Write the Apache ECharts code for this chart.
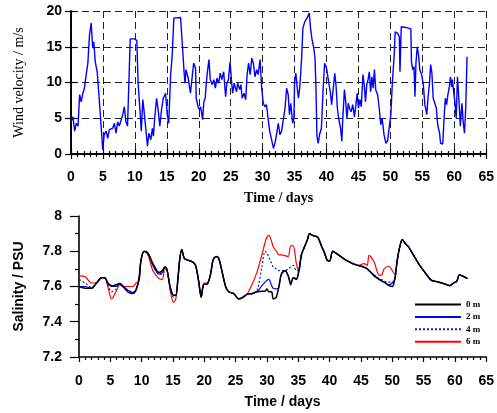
<!DOCTYPE html>
<html>
    <head>
        <meta charset='utf-8'>
        <script src="https://cdn.jsdelivr.net/npm/echarts@6/dist/echarts.min.js"></script>
    </head>
    <body>
        <style>
            html, body, #main {
                width: 100%;
                height: 100%;
                margin: 0;
                background: #fff;
            }
        </style>
        <div id='main'></div>
        <script>
        // wind velocity (m/s) against time (days)
        var windDays = [0.0,0.15,0.3,0.57,0.83,1.1,1.35,1.6,1.86,2.1,2.38,2.64,2.9,3.16,3.4,3.57,3.78,4.1,4.45,4.7,4.97,5.2,5.5,5.75,6.0,6.27,6.53,6.8,7.05,7.3,7.56,7.82,8.1,8.34,8.6,8.85,9.1,9.27,9.9,10.3,10.5,10.77,11.0,11.24,11.45,11.7,11.97,12.2,12.5,12.74,12.9,13.1,13.4,13.68,13.9,14.2,14.45,14.8,15.07,15.3,15.6,15.85,16.1,
            17.15,17.4,17.7,17.85,18.0,18.35,18.7,18.97,19.2,19.5,19.6,19.9,20.1,20.3,20.6,20.8,21.0,21.3,21.6,21.8,22.1,22.35,22.6,22.85,23.1,23.37,23.6,23.9,24.2,24.4,24.65,24.9,25.08,25.3,25.55,25.9,26.1,26.4,26.6,26.8,27.1,27.35,27.57,27.8,28.05,28.3,28.55,28.8,29.07,29.3,29.6,29.85,30.1,30.37,30.6,30.9,31.1,31.4,31.7,32.0,
            32.2,32.45,32.7,32.97,33.2,33.5,33.75,34.0,34.2,34.4,34.7,34.9,35.0,35.2,35.4,35.6,35.8,35.97,36.1,36.3,36.6,36.95,37.3,37.5,37.7,38.0,38.2,38.35,38.5,38.7,38.9,39.2,39.45,39.7,40.0,40.2,40.4,40.6,40.8,41.0,41.3,41.5,41.7,41.9,42.2,42.4,42.55,42.8,42.97,43.2,43.4,43.6,43.85,44.1,44.37,44.6,44.8,45.0,45.25,45.45,45.7,45.9,46.1,46.3,46.5,46.7,46.9,47.1,47.3,47.5,47.7,48.0,48.25,
            48.5,48.7,48.85,49.0,49.3,49.55,49.8,50.07,50.3,50.6,50.75,51.1,51.4,51.5,51.7,52.4,53.2,53.3,53.5,53.7,53.85,54.0,54.2,54.4,54.6,54.9,55.15,55.4,55.7,55.9,56.1,56.3,56.5,56.7,56.95,57.2,57.4,57.7,57.85,58.2,58.4,58.6,58.8,59.0,59.2,59.4,59.6,59.7,59.9,60.1,60.3,60.5,60.7,60.95,61.2,61.4,61.6,61.8,62.0];
        var windSpeed = [4.5,4.3,5.2,3.2,4.3,3.9,8.3,7.3,8.5,9.2,11.1,12.7,16.7,18.3,14.8,15.7,13.0,11.5,7.3,4.1,0.6,2.7,3.2,2.2,3.4,3.2,3.6,4.3,2.9,4.5,3.9,4.1,5.5,6.6,4.5,3.9,11.1,16.1,16.1,15.9,10.1,6.4,3.2,7.6,5.9,3.6,1.1,2.9,2.0,3.6,2.5,5.0,7.8,5.9,3.9,6.4,7.8,8.5,5.5,4.3,11.1,13.9,19.0,
            19.1,15.7,11.5,9.9,11.8,10.6,8.5,8.3,12.7,12.0,7.8,6.6,6.2,6.6,4.8,7.3,7.8,11.1,13.2,10.4,9.7,10.4,9.2,10.6,9.9,11.3,10.4,11.5,8.0,9.9,10.4,12.9,10.8,8.5,9.9,8.7,9.9,9.0,9.7,7.8,8.5,7.6,11.1,12.7,11.1,13.4,12.7,10.8,11.8,11.1,13.2,9.2,7.1,6.6,6.9,4.6,3.2,2.0,0.8,1.8,
            2.9,4.3,2.7,3.2,4.6,6.4,9.2,8.3,5.5,7.1,4.3,5.0,10.1,11.3,9.4,7.8,9.2,11.5,13.4,17.6,18.5,19.0,19.7,17.6,16.2,14.8,13.4,9.2,2.5,1.5,2.7,3.6,8.7,12.7,12.0,11.8,9.7,8.7,6.9,8.7,11.3,9.4,6.4,5.0,3.6,1.8,5.0,9.0,7.6,5.0,7.1,6.4,5.9,6.9,5.2,6.9,8.5,6.4,7.6,6.6,11.1,9.7,7.3,9.7,10.4,11.5,8.7,10.8,9.2,11.8,9.0,8.3,6.4,
            4.1,5.0,3.9,2.7,1.5,1.8,1.8,5.5,9.9,13.9,17.1,16.9,16.4,11.5,17.8,17.7,17.5,12.9,11.8,12.2,8.0,12.7,15.0,13.9,11.8,11.1,9.7,6.9,5.5,8.0,9.7,12.5,11.3,7.8,7.1,6.4,4.1,2.9,1.5,1.4,5.0,7.8,6.9,8.3,9.2,10.8,9.4,10.4,8.7,7.3,5.0,10.8,8.0,3.9,7.1,4.5,2.9,6.6,13.6];

        // salinity (PSU) at four depths against time (days)
        var salDays = [0,1,2,2.8,3.6,4.1,4.6,5.2,5.9,6.5,7.0,7.8,8.6,9.1,9.6,9.9,10.4,11.0,11.8,12.8,13.3,13.7,14.0,14.6,15.1,15.45,15.8,16.1,16.4,16.8,17.3,18.1,18.6,19.1,19.5,19.9,20.5,21.0,21.4,21.9,22.3,22.8,23.4,23.9,24.7,25.5,26.0,26.8,27.6,28.4,29.2,29.7,30.0,30.3,30.75,31.0,31.5,31.9,32.3,32.9,33.4,33.8,34.2,34.7,35.1,35.5,36.0,36.5,36.8,37.3,38.1,38.7,39.2,39.6,40.0,40.5,41.0,41.8,42.6,43.7,44.5,45.5,46.0,46.3,47.1,47.9,48.3,48.7,49.5,50.0,50.4,50.8,51.2,51.6,52.1,52.6,53.4,54.2,55.0,55.8,56.3,57.1,57.9,58.7,59.2,59.8,60.3,60.7,61.2,62.0];
        var sal0m = [7.60,7.59,7.59,7.62,7.65,7.65,7.62,7.60,7.61,7.615,7.60,7.57,7.56,7.58,7.65,7.75,7.80,7.79,7.73,7.68,7.69,7.71,7.70,7.59,7.55,7.55,7.65,7.76,7.81,7.76,7.75,7.74,7.72,7.63,7.54,7.61,7.615,7.67,7.75,7.77,7.76,7.69,7.60,7.57,7.56,7.53,7.535,7.555,7.56,7.57,7.573,7.573,7.586,7.57,7.57,7.53,7.54,7.60,7.67,7.69,7.66,7.61,7.65,7.64,7.69,7.78,7.825,7.87,7.90,7.89,7.88,7.83,7.79,7.75,7.745,7.80,7.79,7.77,7.75,7.73,7.72,7.71,7.70,7.69,7.66,7.64,7.632,7.625,7.605,7.60,7.64,7.75,7.825,7.866,7.843,7.825,7.777,7.73,7.69,7.653,7.634,7.628,7.62,7.61,7.605,7.62,7.63,7.665,7.66,7.645];
        var sal2m = [7.60,7.60,7.59,7.62,7.65,7.65,7.62,7.605,7.60,7.62,7.605,7.58,7.565,7.58,7.65,7.75,7.80,7.79,7.72,7.67,7.68,7.71,7.70,7.59,7.55,7.55,7.65,7.76,7.81,7.76,7.75,7.74,7.72,7.63,7.54,7.61,7.615,7.67,7.75,7.77,7.76,7.69,7.60,7.57,7.56,7.53,7.535,7.555,7.56,7.57,7.605,7.625,7.635,7.64,7.605,7.59,7.586,7.596,7.67,7.69,7.66,7.62,7.65,7.645,7.69,7.78,7.825,7.87,7.90,7.89,7.88,7.83,7.79,7.75,7.745,7.80,7.79,7.77,7.75,7.73,7.72,7.71,7.70,7.69,7.665,7.64,7.633,7.625,7.61,7.62,7.64,7.75,7.825,7.866,7.843,7.825,7.777,7.73,7.69,7.653,7.634,7.628,7.62,7.61,7.605,7.62,7.63,7.665,7.66,7.645];
        var sal4m = [7.64,7.62,7.595,7.62,7.65,7.65,7.61,7.57,7.585,7.615,7.60,7.58,7.57,7.58,7.65,7.75,7.80,7.78,7.72,7.67,7.67,7.71,7.70,7.58,7.54,7.545,7.65,7.76,7.81,7.76,7.75,7.74,7.72,7.63,7.54,7.61,7.615,7.67,7.75,7.77,7.76,7.69,7.60,7.57,7.56,7.53,7.535,7.555,7.56,7.577,7.71,7.80,7.79,7.765,7.73,7.71,7.70,7.69,7.69,7.69,7.70,7.71,7.72,7.69,7.69,7.78,7.825,7.87,7.90,7.89,7.88,7.83,7.79,7.75,7.745,7.80,7.79,7.77,7.75,7.73,7.72,7.71,7.70,7.69,7.665,7.645,7.64,7.63,7.625,7.625,7.64,7.75,7.825,7.866,7.843,7.825,7.777,7.73,7.69,7.653,7.634,7.628,7.62,7.61,7.605,7.62,7.63,7.665,7.66,7.645];
        var sal6m = [7.66,7.655,7.62,7.62,7.65,7.65,7.60,7.53,7.57,7.61,7.60,7.60,7.60,7.62,7.63,7.75,7.80,7.78,7.69,7.645,7.64,7.70,7.70,7.57,7.51,7.53,7.64,7.76,7.81,7.76,7.75,7.74,7.72,7.63,7.54,7.62,7.62,7.67,7.75,7.77,7.76,7.69,7.60,7.57,7.56,7.53,7.535,7.555,7.61,7.68,7.78,7.85,7.88,7.89,7.855,7.825,7.80,7.78,7.78,7.775,7.77,7.83,7.83,7.73,7.69,7.78,7.825,7.87,7.90,7.89,7.88,7.83,7.79,7.75,7.745,7.80,7.79,7.77,7.75,7.73,7.72,7.73,7.72,7.777,7.74,7.665,7.665,7.70,7.715,7.69,7.67,7.75,7.825,7.866,7.843,7.825,7.777,7.73,7.69,7.653,7.634,7.628,7.62,7.61,7.605,7.62,7.63,7.665,7.66,7.645];

        function pairs(xs, ys) {
            return xs.map(function (x, i) { return [x, ys[i]]; });
        }

        var chart = echarts.init(document.getElementById('main'));

        var tickFont = {
            fontFamily: 'Liberation Sans, Arial',
            fontWeight: 'bold',
            fontSize: 14,
            color: '#000'
        };
        var axisLine = { show: true, lineStyle: { color: '#000', width: 1.6 } };
        var gridDash = { show: true, lineStyle: { color: '#222', type: [7, 4], width: 1 } };

        var option = {
            animation: false,
            backgroundColor: '#fff',
            grid: [
                { left: 71, right: 8, top: 11, height: 143 },
                { left: 79, right: 7, top: 216, height: 141 }
            ],
            legend: {
                left: 409,
                top: 295,
                orient: 'vertical',
                itemWidth: 46,
                itemHeight: 10,
                itemGap: 3.4,
                itemStyle: { opacity: 0 },
                textStyle: {
                    fontFamily: 'Liberation Serif, Times New Roman',
                    fontWeight: 'bold',
                    fontSize: 9,
                    color: '#000'
                },
                data: ['0 m', '2 m', '4 m', '6 m']
            },
            xAxis: [{
                gridIndex: 0,
                type: 'value',
                min: 0, max: 65, interval: 5,
                axisLine: axisLine,
                axisTick: { show: true, length: 5, lineStyle: { color: '#000', width: 1.2 } },
                minorTick: { show: true, splitNumber: 5, length: 3, lineStyle: { color: '#000', width: 1.2 } },
                axisLabel: Object.assign({ margin: 16 }, tickFont),
                splitLine: gridDash,
                name: 'Time / days',
                nameLocation: 'middle',
                nameGap: 37,
                nameTextStyle: {
                    fontFamily: 'Liberation Serif, Times New Roman',
                    fontWeight: 'bold',
                    fontSize: 14,
                    color: '#000'
                }
            }, {
                gridIndex: 0,
                type: 'value',
                position: 'top',
                min: 0, max: 65, interval: 5,
                axisLine: axisLine,
                axisTick: { show: true, length: 5, lineStyle: { color: '#000', width: 1.2 } },
                minorTick: { show: true, splitNumber: 5, length: 3, lineStyle: { color: '#000', width: 1.2 } },
                axisLabel: { show: false },
                splitLine: { show: false }
            }, {
                gridIndex: 1,
                type: 'value',
                min: 0, max: 65, interval: 5,
                axisLine: axisLine,
                axisTick: { show: true, length: 5, lineStyle: { color: '#000', width: 1.2 } },
                minorTick: { show: true, splitNumber: 5, length: 3, lineStyle: { color: '#000', width: 1.2 } },
                axisLabel: Object.assign({ margin: 17 }, tickFont),
                splitLine: { show: false },
                name: 'Time / days',
                nameLocation: 'middle',
                nameGap: 38,
                nameTextStyle: {
                    fontFamily: 'Liberation Sans, Arial',
                    fontWeight: 'bold',
                    fontSize: 14,
                    color: '#000'
                }
            }],
            yAxis: [{
                gridIndex: 0,
                type: 'value',
                min: 0, max: 20, interval: 5,
                axisLine: axisLine,
                axisTick: { show: true, length: 6, lineStyle: { color: '#000', width: 1.2 } },
                axisLabel: Object.assign({ margin: 9 }, tickFont),
                splitLine: gridDash,
                name: 'Wind velocity / m/s',
                nameLocation: 'middle',
                nameGap: 45,
                nameTextStyle: {
                    fontFamily: 'Liberation Serif, Times New Roman',
                    fontSize: 14,
                    color: '#000'
                }
            }, {
                gridIndex: 0,
                type: 'value',
                position: 'right',
                min: 0, max: 20, interval: 5,
                axisLine: axisLine,
                axisTick: { show: true, length: 6, lineStyle: { color: '#000', width: 1.2 } },
                axisLabel: { show: false },
                splitLine: { show: false }
            }, {
                gridIndex: 1,
                type: 'value',
                min: 7.2, max: 8, interval: 0.2,
                axisLine: axisLine,
                axisTick: { show: true, length: 9, lineStyle: { color: '#000', width: 1.2 } },
                minorTick: { show: true, splitNumber: 2, length: 4, lineStyle: { color: '#000', width: 1.2 } },
                axisLabel: Object.assign({ margin: 17 }, tickFont),
                splitLine: { show: false },
                name: 'Salinity / PSU',
                nameLocation: 'middle',
                nameGap: 53,
                nameTextStyle: {
                    fontFamily: 'Liberation Sans, Arial',
                    fontWeight: 'bold',
                    fontSize: 14,
                    color: '#000'
                }
            }],
            series: [{
                type: 'line',
                xAxisIndex: 0,
                yAxisIndex: 0,
                data: pairs(windDays, windSpeed),
                symbol: 'none',
                lineStyle: { color: '#0000ff', width: 1.4 }
            }, {
                name: '6 m',
                type: 'line',
                xAxisIndex: 2,
                yAxisIndex: 2,
                data: pairs(salDays, sal6m),
                symbol: 'none',
                smooth: 0.3,
                color: '#ff0000',
                lineStyle: { color: '#ff0000', width: 1.2 }
            }, {
                name: '4 m',
                type: 'line',
                xAxisIndex: 2,
                yAxisIndex: 2,
                data: pairs(salDays, sal4m),
                symbol: 'none',
                smooth: 0.3,
                color: '#1a1a9a',
                lineStyle: { color: '#1a1a9a', width: 1.2, type: [2, 2] }
            }, {
                name: '2 m',
                type: 'line',
                xAxisIndex: 2,
                yAxisIndex: 2,
                data: pairs(salDays, sal2m),
                symbol: 'none',
                smooth: 0.3,
                color: '#0000ff',
                lineStyle: { color: '#0000ff', width: 1.2 }
            }, {
                name: '0 m',
                type: 'line',
                xAxisIndex: 2,
                yAxisIndex: 2,
                data: pairs(salDays, sal0m),
                symbol: 'none',
                smooth: 0.3,
                color: '#000',
                lineStyle: { color: '#000', width: 1.5 }
            }]
        };

        chart.setOption(option);
        </script>
    </body>
</html>
